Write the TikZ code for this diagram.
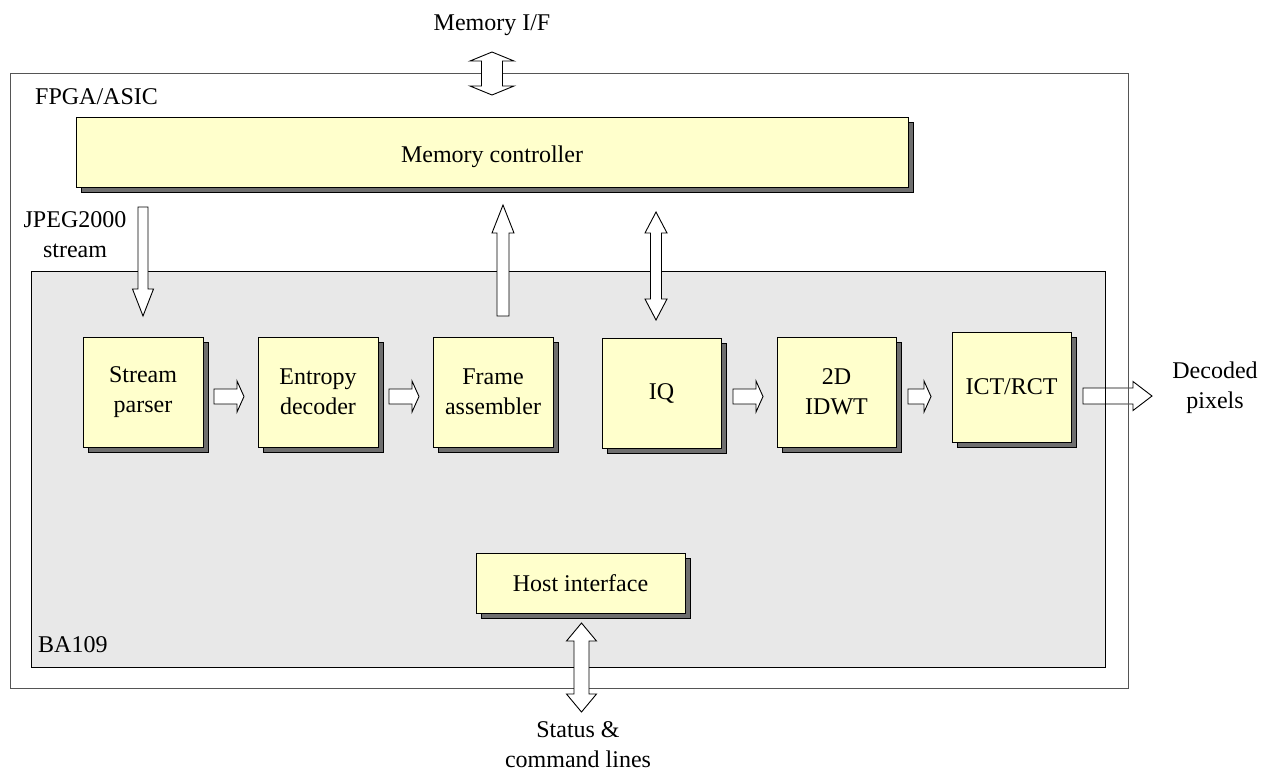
\documentclass[tikz,border=0pt]{standalone}
\usepackage{fontspec}
\setmainfont{Liberation Serif}
\usetikzlibrary{shadows}
\definecolor{yelfill}{HTML}{FFFFCC}
\definecolor{shgray}{HTML}{6E6E6E}
\definecolor{bgfill}{HTML}{E8E8E8}
\definecolor{outline}{HTML}{555555}
\newcommand\hArrowR[6]{% x1,x2,y,h,H,L
  \draw[fatarrow] ({#1},{#3-#4}) -- ({#2-#6},{#3-#4}) -- ({#2-#6},{#3-#5}) -- ({#2},{#3}) -- ({#2-#6},{#3+#5}) -- ({#2-#6},{#3+#4}) -- ({#1},{#3+#4}) -- cycle;}
\newcommand\vArrowD[6]{% x,y1,y2,h,H,L
  \draw[fatarrow] ({#1-#4},{#2}) -- ({#1-#4},{#3-#6}) -- ({#1-#5},{#3-#6}) -- ({#1},{#3}) -- ({#1+#5},{#3-#6}) -- ({#1+#4},{#3-#6}) -- ({#1+#4},{#2}) -- cycle;}
\newcommand\vArrowU[6]{% x,y1(tip),y2,h,H,L
  \draw[fatarrow] ({#1-#4},{#3}) -- ({#1-#4},{#2+#6}) -- ({#1-#5},{#2+#6}) -- ({#1},{#2}) -- ({#1+#5},{#2+#6}) -- ({#1+#4},{#2+#6}) -- ({#1+#4},{#3}) -- cycle;}
\newcommand\vArrowB[6]{% x,y1,y2,h,H,L
  \draw[fatarrow] ({#1},{#2}) -- ({#1+#5},{#2+#6}) -- ({#1+#4},{#2+#6}) -- ({#1+#4},{#3-#6}) -- ({#1+#5},{#3-#6}) -- ({#1},{#3}) -- ({#1-#5},{#3-#6}) -- ({#1-#4},{#3-#6}) -- ({#1-#4},{#2+#6}) -- ({#1-#5},{#2+#6}) -- cycle;}
\begin{document}
\begin{tikzpicture}[x=1pt,y=-1pt,
  every node/.style={font=\fontsize{24}{30}\selectfont},
  blockbox/.style={draw=black, fill=yelfill, line width=0.8pt, inner sep=0pt, align=center,
    drop shadow={shadow xshift=5pt, shadow yshift=-5pt, opacity=1, fill=shgray, draw=black, line width=0.6pt}},
  fatarrow/.style={draw=black, fill=white, line width=0.9pt, line join=miter},
  lbl/.style={inner sep=0pt, align=center}]
\useasboundingbox (0,0) rectangle (1271,772);
% containers
\draw[outline, line width=0.9pt, fill=white] (10,73) rectangle (1128,688);
\draw[black, line width=0.9pt, fill=bgfill] (31,271) rectangle (1105,667);
\node[lbl, anchor=west] (fpga) at (35,97) {FPGA/ASIC};
\node[lbl, anchor=west] (ba) at (38,645) {BA109};
% blocks
\node[blockbox, minimum width=832pt, minimum height=70pt] (mc) at (492,152) {};
\node[lbl] (mct) at (492,157) {Memory controller};
\node[blockbox, minimum width=120pt, minimum height=110pt] (sp) at (143,392) {Stream\\parser};
\node[blockbox, minimum width=120pt, minimum height=110pt] (ed) at (318,392) {Entropy\\decoder};
\node[blockbox, minimum width=120pt, minimum height=110pt] (fa) at (493,392) {Frame\\assembler};
\node[blockbox, minimum width=119pt, minimum height=110pt] (iq) at (661.5,393) {IQ};
\node[blockbox, minimum width=119pt, minimum height=110pt] (idwt) at (836.5,392) {2D\\IDWT};
\node[blockbox, minimum width=119pt, minimum height=110pt] (ict) at (1011.5,387) {ICT/RCT};
\node[blockbox, minimum width=209pt, minimum height=60pt] (hi) at (580.5,583) {Host interface};
% labels
\node[lbl] (memif) at (492,25) {Memory I/F};
\node[lbl] (jpeg) at (75,235) {JPEG2000\\stream};
\node[lbl] (dec) at (1215,388) {Decoded\\pixels};
\node[lbl] (stat) at (578,745) {Status \&\\command lines};
% fat arrows
\hArrowR{214}{244}{396.5}{7.5}{15.5}{7}
\hArrowR{389}{419}{396.5}{7.5}{15.5}{7}
\hArrowR{733}{763}{396.5}{7.5}{15.5}{7}
\hArrowR{908}{931}{396.5}{7.5}{15.5}{7}
\hArrowR{1083}{1152}{396}{8}{14.5}{19}
\draw[black, line width=0.9pt] (1105,380) -- (1105,413);
\draw[outline, line width=0.9pt] (1128,380) -- (1128,413);
\vArrowD{143}{207}{316}{5}{10.5}{27}
\vArrowU{503}{205}{316}{6}{11}{28}
\vArrowB{656}{212}{320}{5.5}{11}{21}
\vArrowB{492}{52}{95}{10.5}{22}{9}
\vArrowB{581.5}{623}{712}{7.5}{15}{18}
\end{tikzpicture}
\end{document}
